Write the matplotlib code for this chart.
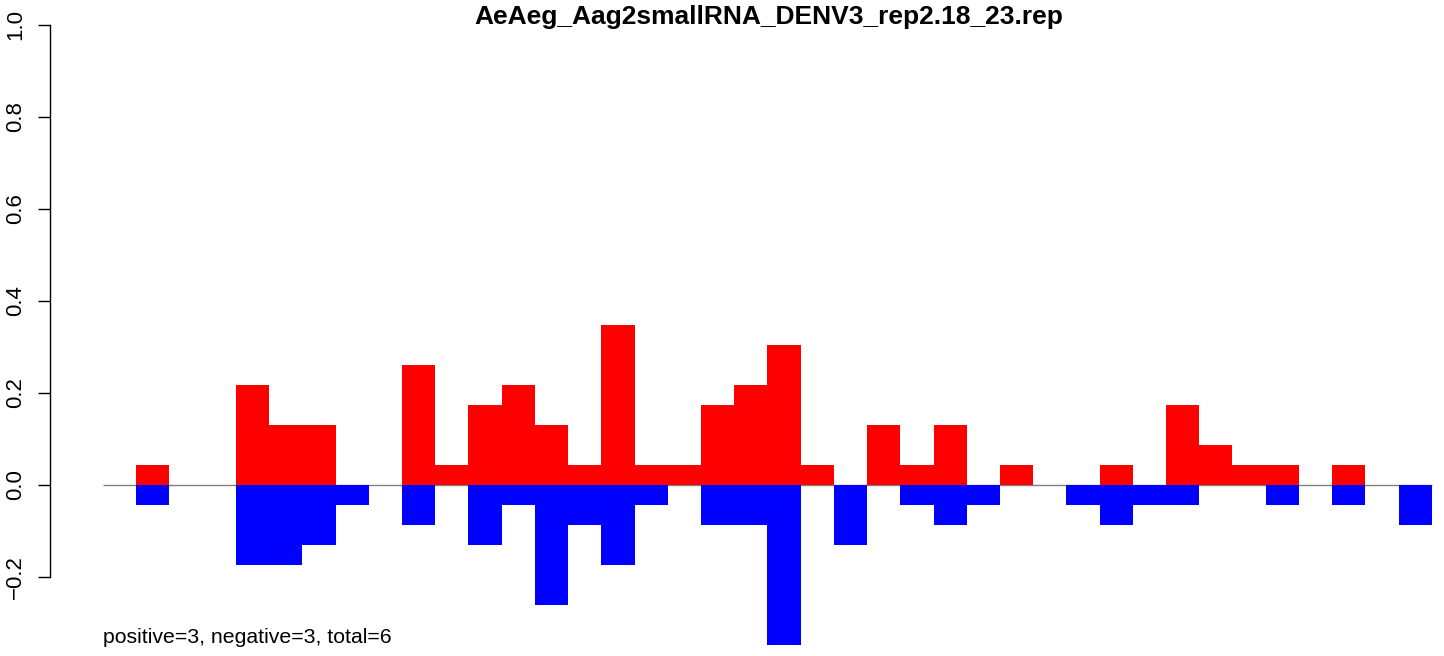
import numpy as np
import matplotlib
matplotlib.use("Agg")
import matplotlib.pyplot as plt

plt.rcParams['font.family'] = ['Liberation Sans', 'DejaVu Sans']

# ---- data ----
title = "AeAeg_Aag2smallRNA_DENV3_rep2.18_23.rep"
note = "positive=3, negative=3, total=6"

positive = [0, 0.0435, 0, 0, 0.217, 0.130, 0.130, 0, 0, 0.261,
            0.0435, 0.174, 0.217, 0.130, 0.0435, 0.348, 0.0435, 0.0435, 0.174, 0.217,
            0.304, 0.0435, 0, 0.130, 0.0435, 0.130, 0, 0.0435, 0, 0,
            0.0435, 0, 0.174, 0.087, 0.0435, 0.0435, 0, 0.0435, 0, 0]
negative = [0, -0.0435, 0, 0, -0.174, -0.174, -0.130, -0.0435, 0, -0.087,
            0, -0.130, -0.0435, -0.261, -0.087, -0.174, -0.0435, 0, -0.087, -0.087,
            -0.348, 0, -0.130, 0, -0.0435, -0.087, -0.0435, 0, 0, -0.0435,
            -0.087, -0.0435, -0.0435, 0, 0, -0.0435, 0, -0.0435, 0, -0.087]
yticks = [-0.2, 0.0, 0.2, 0.4, 0.6, 0.8, 1.0]

W, H = 1444, 656
fig = plt.figure(figsize=(W / 100, H / 100), dpi=100)
fig.patch.set_facecolor('white')

# axes: left edge at the y axis line, full height
x0 = 50
ax = fig.add_axes([x0 / W, 0, 1 - x0 / W, 1])
bw = 33.22  # px per bar
ax.set_xlim(-(103 - x0) / bw, (W - 103) / bw)
ax.set_ylim((485 - H) / 460, 485 / 460)

n = len(positive)
xs = np.arange(n)
ax.hlines(0, 0, n, color='#808080', lw=1, zorder=1)
ax.bar(xs, positive, width=1.0, align='edge', color='#FF0000', linewidth=0, zorder=2)
ax.bar(xs, negative, width=1.0, align='edge', color='#0000FF', linewidth=0, zorder=2)

for s in ['top', 'right', 'bottom']:
    ax.spines[s].set_visible(False)
ax.spines['left'].set_bounds(-0.2, 1.0)
ax.spines['left'].set_linewidth(1)
ax.set_xticks([])
ax.set_yticks(yticks)
ax.set_yticklabels([f"{v:.1f}".replace('-', '\u2212') for v in yticks],
                   rotation=90, va='center', fontsize=16)
ax.tick_params(axis='y', length=8.5, width=1, pad=8.5)

fig.text(769 / W, 1 - 24 / H, title, ha='center', va='baseline',
         fontsize=19, fontweight='bold')
fig.text(103 / W, 1 - 643 / H, note, ha='left', va='baseline', fontsize=15.3)

fig.savefig("out.png", dpi=100, facecolor='white')
